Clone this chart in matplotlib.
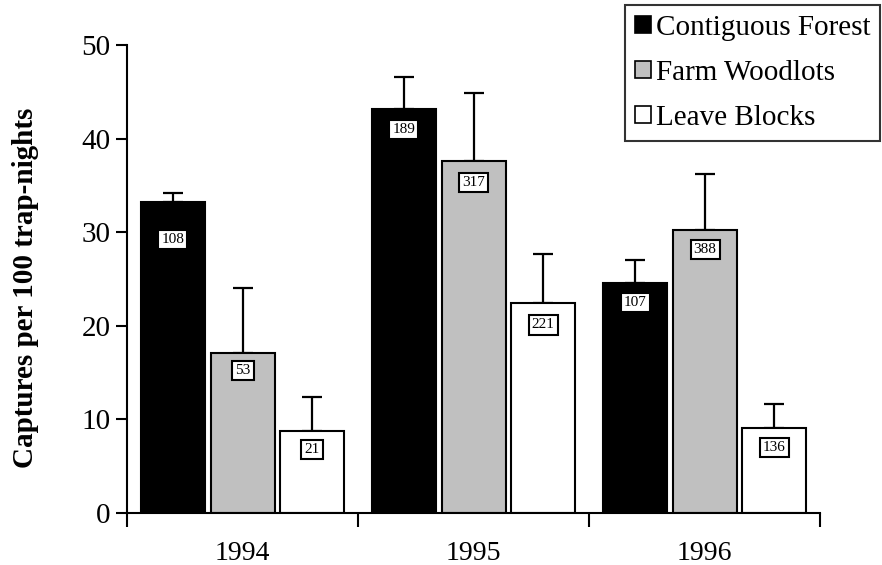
import matplotlib
matplotlib.use("Agg")
import matplotlib.pyplot as plt
from matplotlib.patches import Patch

plt.rcParams['font.family'] = ['Liberation Serif', 'DejaVu Serif']

# data
years = ["1994", "1995", "1996"]
habitats = ["Contiguous Forest", "Farm Woodlots", "Leave Blocks"]
means = [
    [33.2, 43.2, 24.6],   # contiguous forest
    [17.1, 37.6, 30.2],   # farm woodlots
    [8.8, 22.4, 9.1],     # leave blocks
]
errors = [
    [1.0, 3.4, 2.4],
    [7.0, 7.3, 6.0],
    [3.6, 5.3, 2.5],
]
counts = [
    ["108", "189", "107"],
    ["53", "317", "388"],
    ["21", "221", "136"],
]

colors = ["black", "#c0c0c0", "white"]
offsets = [0.06, 0.363, 0.662]
width = 0.277
# how far below the bar top the count box sits (data units)
label_drop = [[4.0, 2.2, 2.1], [1.9, 2.3, 2.0], [2.0, 2.3, 2.1]]

fig = plt.figure(figsize=(8.82, 5.65), dpi=100)
ax = fig.add_axes([0.144, 0.092, 0.786, 0.828])

for k in range(3):
    xs = [i + offsets[k] + width / 2 for i in range(3)]
    ax.bar(xs, means[k], width=width, color=colors[k], edgecolor="black",
           linewidth=1.5, zorder=2)
    ax.errorbar(xs, means[k], yerr=[[0, 0, 0], errors[k]], fmt="none",
                ecolor="black", elinewidth=1.6, capsize=7, capthick=1.6,
                zorder=1)
    for i in range(3):
        ax.text(xs[i], means[k][i] - label_drop[k][i], counts[k][i],
                ha="center", va="center", fontsize=11, zorder=3,
                bbox=dict(boxstyle="square,pad=0.2", fc="white",
                          ec="black", lw=1.5))

ax.set_xlim(0, 3)
ax.set_ylim(0, 50)
ax.set_xticks([0, 1, 2, 3])
ax.set_xticklabels([])
ax.set_xticks([0.5, 1.5, 2.5], minor=True)
ax.set_xticklabels(years, minor=True)
ax.tick_params(axis="x", which="minor", length=0, pad=20, labelsize=20)
ax.tick_params(axis="x", which="major", direction="out", length=10, width=1.5)
ax.set_yticks([0, 10, 20, 30, 40, 50])
ax.tick_params(axis="y", direction="out", length=8, width=1.5, labelsize=21,
               pad=4)

for s in ["top", "right"]:
    ax.spines[s].set_visible(False)
for s in ["left", "bottom"]:
    ax.spines[s].set_linewidth(1.5)

ax.set_ylabel("Captures per 100 trap-nights", fontsize=21, fontweight="bold",
              va="center")
ax.yaxis.set_label_coords(-0.146, 0.482)

handles = [Patch(facecolor=c, edgecolor="black", linewidth=1.2) for c in colors]
leg = fig.legend(handles, habitats, loc="upper right",
                 bbox_to_anchor=(0.998, 0.992), fontsize=21, frameon=True,
                 fancybox=False, edgecolor="black", handlelength=0.55,
                 handleheight=0.55, handletextpad=0.15, borderpad=0.35,
                 labelspacing=0.65, borderaxespad=0)
leg.get_frame().set_linewidth(1.5)

fig.savefig("out.png", dpi=100)
